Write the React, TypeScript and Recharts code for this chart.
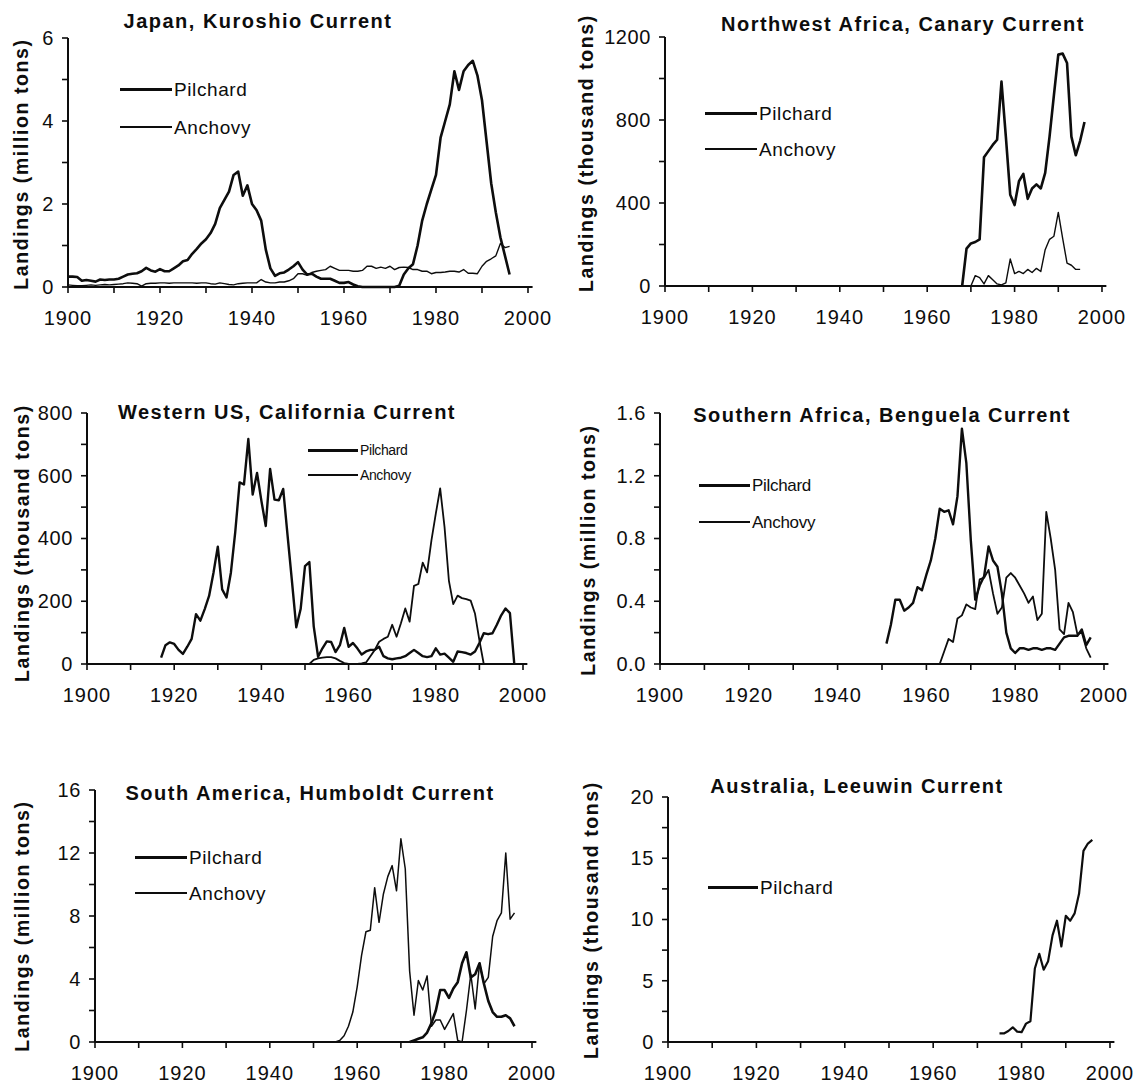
import React from "react";
import { LineChart, Line, XAxis, YAxis } from "recharts";

const FONT = '"Liberation Sans", Arial, Helvetica, sans-serif';
const INK = "#0d0d0d";
const X_MIN = 1900;
const X_MAX = 2001;

// x axis: tick every 10 years, label every 20
const YEAR_TICKS = [1900, 1910, 1920, 1930, 1940, 1950, 1960, 1970, 1980, 1990, 2000];
const YEAR_LABELS = [1900, 1920, 1940, 1960, 1980, 2000];

// ---- Japan, Kuroshio Current (million tons) ----
const japanPilchardStart = 1900;
const japanPilchard = [
  0.25, 0.25, 0.24, 0.15, 0.17, 0.15, 0.13, 0.18, 0.17, 0.18,
  0.18, 0.2, 0.25, 0.3, 0.32, 0.33, 0.38, 0.46, 0.4, 0.37,
  0.43, 0.38, 0.38, 0.45, 0.52, 0.62, 0.65, 0.8, 0.92, 1.05,
  1.15, 1.3, 1.52, 1.9, 2.1, 2.3, 2.7, 2.78, 2.2, 2.45,
  2.0, 1.85, 1.6, 0.9, 0.45, 0.27, 0.33, 0.35, 0.42, 0.5,
  0.6, 0.42, 0.3, 0.32, 0.25, 0.2, 0.2, 0.2, 0.15, 0.1,
  0.1, 0.12, 0.06, 0.02, 0, 0, 0, 0, 0, 0,
  0, 0, 0.03, 0.3, 0.45, 0.55, 1.0, 1.6, 2.0, 2.35,
  2.7, 3.6, 4.0, 4.4, 5.2, 4.75, 5.2, 5.35, 5.45, 5.1,
  4.5, 3.5, 2.5, 1.8, 1.2, 0.75, 0.3,
];
const japanAnchovyStart = 1900;
const japanAnchovy = [
  0.05, 0.04, 0.03, 0.03, 0.04, 0.05, 0.04, 0.05, 0.06, 0.05,
  0.06, 0.07, 0.08, 0.1, 0.09, 0.08, 0.02, 0.08, 0.09, 0.09,
  0.1, 0.1, 0.09, 0.1, 0.1, 0.1, 0.1, 0.1, 0.09, 0.1,
  0.1, 0.08, 0.07, 0.1, 0.08, 0.06, 0.05, 0.08, 0.09, 0.1,
  0.1, 0.1, 0.18, 0.12, 0.1, 0.1, 0.12, 0.12, 0.15, 0.2,
  0.32, 0.32, 0.28, 0.35, 0.38, 0.4, 0.42, 0.5, 0.45, 0.4,
  0.4, 0.4, 0.38, 0.38, 0.4, 0.5, 0.5, 0.45, 0.48, 0.45,
  0.5, 0.42, 0.47, 0.48, 0.47, 0.42, 0.42, 0.38, 0.38, 0.32,
  0.35, 0.35, 0.36, 0.38, 0.38, 0.36, 0.42, 0.33, 0.33, 0.32,
  0.5, 0.62, 0.68, 0.75, 1.05, 0.95, 0.98,
];
const japanTicks = [0, 1, 2, 3, 4, 5, 6];
const japanTickLabels = ["0", "", "2", "", "4", "", "6"];

// ---- Northwest Africa, Canary Current (thousand tons) ----
const canaryPilchardStart = 1968;
const canaryPilchard = [
  0, 180, 205, 212, 225, 620, 650, 680, 705, 985,
  720, 440, 390, 505, 540, 420, 470, 490, 470, 545,
  720, 920, 1115, 1120, 1075, 720, 630, 700, 790,
];
const canaryAnchovyStart = 1970;
const canaryAnchovy = [
  0, 50, 40, 10, 50, 30, 10, 5, 15, 130,
  60, 70, 60, 80, 65, 85, 70, 175, 225, 240,
  355, 230, 110, 100, 80, 80,
];
const canaryTicks = [0, 200, 400, 600, 800, 1000, 1200];
const canaryTickLabels = ["0", "", "400", "", "800", "", "1200"];

// ---- Western US, California Current (thousand tons) ----
const californiaPilchardStart = 1917;
const californiaPilchard = [
  20, 60, 69, 64, 45, 32, 55, 80, 159, 138,
  175, 217, 290, 374, 238, 212, 291, 420, 579, 572,
  717, 540, 609, 520, 440, 622, 524, 522, 558, 410,
  265, 117, 175, 312, 325, 120, 23, 50, 72, 70,
  38, 60, 115, 55, 67, 50, 30, 40, 45, 45,
  55, 25, 18, 15, 18, 20, 25, 35, 45, 35,
  25, 22, 25, 50, 30, 33, 20, 7, 40, 38,
  35, 30, 40, 67, 98, 95, 98, 125, 155, 177,
  162, 0,
];
const californiaAnchovyStart = 1951;
const californiaAnchovy = [
  0, 13, 18, 20, 22, 22, 18, 10, 3, 0,
  0, 0, 2, 5, 25, 45, 71, 80, 87, 125,
  87, 130, 177, 135, 249, 255, 323, 292, 394, 479,
  560, 437, 266, 191, 218, 210, 207, 202, 160, 75,
  0,
];
const californiaTicks = [0, 100, 200, 300, 400, 500, 600, 700, 800];
const californiaTickLabels = ["0", "", "200", "", "400", "", "600", "", "800"];

// ---- Southern Africa, Benguela Current (million tons) ----
const benguelaPilchardStart = 1951;
const benguelaPilchard = [
  0.13, 0.25, 0.41, 0.41, 0.34, 0.36, 0.39, 0.49, 0.47, 0.57,
  0.66, 0.8, 0.99, 0.97, 0.98, 0.89, 1.07, 1.5, 1.28, 0.79,
  0.41, 0.5, 0.56, 0.75, 0.66, 0.62, 0.45, 0.2, 0.1, 0.07,
  0.1, 0.1, 0.09, 0.1, 0.1, 0.09, 0.1, 0.1, 0.09, 0.13,
  0.17, 0.18, 0.18, 0.18, 0.22, 0.12, 0.17,
];
const benguelaAnchovyStart = 1963;
const benguelaAnchovy = [
  0, 0.08, 0.16, 0.14, 0.29, 0.31, 0.38, 0.36, 0.35, 0.54,
  0.55, 0.6, 0.45, 0.32, 0.36, 0.55, 0.58, 0.55, 0.5, 0.45,
  0.39, 0.43, 0.28, 0.32, 0.97, 0.8, 0.6, 0.22, 0.19, 0.39,
  0.33, 0.19, 0.2, 0.1, 0.04,
];
const benguelaTicks = [0, 0.2, 0.4, 0.6, 0.8, 1.0, 1.2, 1.4, 1.6];
const benguelaTickLabels = ["0.0", "", "0.4", "", "0.8", "", "1.2", "", "1.6"];

// ---- South America, Humboldt Current (million tons) ----
const humboldtPilchardStart = 1972;
const humboldtPilchard = [
  0, 0.1, 0.2, 0.3, 0.6, 1.2, 2.0, 3.3, 3.3, 2.8,
  3.4, 3.8, 5.0, 5.7, 4.1, 4.3, 5.0, 3.7, 2.6, 1.9,
  1.6, 1.6, 1.7, 1.5, 1.0,
];
const humboldtAnchovyStart = 1955;
const humboldtAnchovy = [
  0, 0.1, 0.4, 1.0, 1.9, 3.5, 5.5, 7.0, 7.1, 9.8,
  7.6, 9.4, 10.5, 11.2, 9.6, 12.9, 11.0, 4.5, 1.7, 3.9,
  3.3, 4.2, 1.0, 1.4, 1.4, 0.8, 1.3, 1.8, 0.1, 0.0,
  2.0, 4.3, 2.1, 5.0, 3.7, 4.1, 6.7, 7.7, 8.2, 12.0,
  7.8, 8.2,
];
const humboldtTicks = [0, 2, 4, 6, 8, 10, 12, 14, 16];
const humboldtTickLabels = ["0", "", "4", "", "8", "", "12", "", "16"];

// ---- Australia, Leeuwin Current (thousand tons) ----
const leeuwinPilchardStart = 1975;
const leeuwinPilchard = [
  0.7, 0.7, 0.9, 1.2, 0.85, 0.8, 1.5, 1.7, 6.0, 7.2,
  5.9, 6.6, 8.7, 9.9, 7.8, 10.3, 9.9, 10.5, 12.1, 15.6,
  16.2, 16.5,
];
const leeuwinTicks = [0, 2.5, 5, 7.5, 10, 12.5, 15, 17.5, 20];
const leeuwinTickLabels = ["0", "", "5", "", "10", "", "15", "", "20"];

type Series = { name: string; start: number; values: number[]; width: number };

type PanelDef = {
  title: string;
  titleAt: [number, number];
  yLabel: string;
  yLabelAt: [number, number];
  box: { left: number; right: number; top: number; bottom: number };
  ticks: number[];
  tickLabels: string[];
  series: Series[];
  legend: { x: number; y: number; gap: number; len: number; font: number; spacing: number };
};

const PANELS: PanelDef[] = [
  {
    title: "Japan, Kuroshio Current",
    titleAt: [258, 21],
    yLabel: "Landings (million tons)",
    yLabelAt: [21, 164],
    box: { left: 68, right: 528, top: 38, bottom: 287 },
    ticks: japanTicks,
    tickLabels: japanTickLabels,
    series: [
      { name: "Pilchard", start: japanPilchardStart, values: japanPilchard, width: 2.6 },
      { name: "Anchovy", start: japanAnchovyStart, values: japanAnchovy, width: 1.4 },
    ],
    legend: { x: 120, y: 89, gap: 38, len: 52, font: 19, spacing: 0.6 },
  },
  {
    title: "Northwest Africa, Canary Current",
    titleAt: [903, 24],
    yLabel: "Landings (thousand tons)",
    yLabelAt: [586, 153],
    box: { left: 665, right: 1102, top: 37, bottom: 286 },
    ticks: canaryTicks,
    tickLabels: canaryTickLabels,
    series: [
      { name: "Pilchard", start: canaryPilchardStart, values: canaryPilchard, width: 2.6 },
      { name: "Anchovy", start: canaryAnchovyStart, values: canaryAnchovy, width: 1.4 },
    ],
    legend: { x: 705, y: 113, gap: 36, len: 52, font: 19, spacing: 0.6 },
  },
  {
    title: "Western US, California Current",
    titleAt: [287, 412],
    yLabel: "Landings (thousand tons)",
    yLabelAt: [22, 543],
    box: { left: 87, right: 523, top: 413, bottom: 664 },
    ticks: californiaTicks,
    tickLabels: californiaTickLabels,
    series: [
      { name: "Pilchard", start: californiaPilchardStart, values: californiaPilchard, width: 2.4 },
      { name: "Anchovy", start: californiaAnchovyStart, values: californiaAnchovy, width: 1.8 },
    ],
    legend: { x: 308, y: 450, gap: 25, len: 50, font: 14, spacing: -0.4 },
  },
  {
    title: "Southern Africa, Benguela Current",
    titleAt: [882, 415],
    yLabel: "Landings (million tons)",
    yLabelAt: [588, 550],
    box: { left: 660, right: 1104, top: 413, bottom: 664 },
    ticks: benguelaTicks,
    tickLabels: benguelaTickLabels,
    series: [
      { name: "Pilchard", start: benguelaPilchardStart, values: benguelaPilchard, width: 2.4 },
      { name: "Anchovy", start: benguelaAnchovyStart, values: benguelaAnchovy, width: 1.8 },
    ],
    legend: { x: 699, y: 485, gap: 37, len: 51, font: 17, spacing: -0.3 },
  },
  {
    title: "South America, Humboldt Current",
    titleAt: [310, 793],
    yLabel: "Landings (million tons)",
    yLabelAt: [22, 926],
    box: { left: 95, right: 532, top: 790, bottom: 1042 },
    ticks: humboldtTicks,
    tickLabels: humboldtTickLabels,
    series: [
      { name: "Pilchard", start: humboldtPilchardStart, values: humboldtPilchard, width: 2.6 },
      { name: "Anchovy", start: humboldtAnchovyStart, values: humboldtAnchovy, width: 1.5 },
    ],
    legend: { x: 135, y: 857, gap: 36, len: 52, font: 19, spacing: 0.6 },
  },
  {
    title: "Australia, Leeuwin Current",
    titleAt: [857, 786],
    yLabel: "Landings (thousand tons)",
    yLabelAt: [591, 920],
    box: { left: 668, right: 1110, top: 797, bottom: 1042 },
    ticks: leeuwinTicks,
    tickLabels: leeuwinTickLabels,
    series: [
      { name: "Pilchard", start: leeuwinPilchardStart, values: leeuwinPilchard, width: 2.2 },
    ],
    legend: { x: 708, y: 887, gap: 36, len: 50, font: 19, spacing: 0.6 },
  },
];

function buildRows(series: Series[]) {
  const rows: Record<number, any> = {};
  series.forEach((s) => {
    s.values.forEach((v, i) => {
      const year = s.start + i;
      if (!rows[year]) rows[year] = { year };
      rows[year][s.name] = v;
    });
  });
  return Object.values(rows).sort((a: any, b: any) => a.year - b.year);
}

const XTick = (props: any) => {
  const { x, y, payload } = props;
  if (!YEAR_LABELS.includes(payload.value)) return <g />;
  return (
    <text x={x} y={y + 25} textAnchor="middle" dominantBaseline="central"
      fontFamily={FONT} fontSize={20} letterSpacing={1} fill={INK}>
      {payload.value}
    </text>
  );
};

const makeYTick = (ticks: number[], labels: string[]) => (props: any) => {
  const { x, y, payload } = props;
  const label = labels[ticks.indexOf(payload.value)];
  if (!label) return <g />;
  return (
    <text x={x - 8} y={y} textAnchor="end" dominantBaseline="central"
      fontFamily={FONT} fontSize={20} letterSpacing={0.6} fill={INK}>
      {label}
    </text>
  );
};

const Y_AXIS_W = 70;
const X_AXIS_H = 45;
const M_TOP = 10;
const M_RIGHT = 32;

function Panel({ p }: { p: PanelDef }) {
  const rows = buildRows(p.series);
  const pxPerYear = (p.box.right - p.box.left) / 100;
  const plotW = (X_MAX - X_MIN) * pxPerYear;
  const plotH = p.box.bottom - p.box.top;
  const yMax = p.ticks[p.ticks.length - 1];

  return (
    <>
      <div style={{ position: "absolute", left: p.box.left - Y_AXIS_W, top: p.box.top - M_TOP }}>
        <LineChart
          width={Y_AXIS_W + plotW + M_RIGHT}
          height={M_TOP + plotH + X_AXIS_H}
          data={rows}
          margin={{ top: M_TOP, right: M_RIGHT, bottom: 0, left: 0 }}
        >
          <XAxis
            type="number"
            dataKey="year"
            domain={[X_MIN, X_MAX]}
            ticks={YEAR_TICKS}
            interval={0}
            height={X_AXIS_H}
            tickSize={6}
            tickMargin={0}
            axisLine={{ stroke: INK, strokeWidth: 2.2 }}
            tickLine={{ stroke: INK, strokeWidth: 1.6 }}
            tick={XTick}
          />
          <YAxis
            type="number"
            domain={[0, yMax]}
            ticks={p.ticks}
            interval={0}
            width={Y_AXIS_W}
            tickSize={6}
            tickMargin={0}
            axisLine={{ stroke: INK, strokeWidth: 2 }}
            tickLine={{ stroke: INK, strokeWidth: 1.6 }}
            tick={makeYTick(p.ticks, p.tickLabels)}
          />
          {p.series.map((s) => (
            <Line
              key={s.name}
              type="linear"
              dataKey={s.name}
              stroke={INK}
              strokeWidth={s.width}
              strokeLinejoin="round"
              dot={false}
              activeDot={false}
              connectNulls={false}
              isAnimationActive={false}
            />
          ))}
        </LineChart>
      </div>

      <div
        style={{
          position: "absolute",
          left: p.titleAt[0],
          top: p.titleAt[1],
          transform: "translate(-50%, -50%)",
          whiteSpace: "nowrap",
          fontWeight: 700,
          fontSize: 20,
          letterSpacing: 1.5,
          color: INK,
        }}
      >
        {p.title}
      </div>

      <div
        style={{
          position: "absolute",
          left: p.yLabelAt[0],
          top: p.yLabelAt[1],
          transform: "translate(-50%, -50%) rotate(-90deg)",
          whiteSpace: "nowrap",
          fontWeight: 700,
          fontSize: 19.5,
          letterSpacing: 1.6,
          color: INK,
        }}
      >
        {p.yLabel}
      </div>

      {p.series.map((s, i) => {
        const cy = p.legend.y + i * p.legend.gap;
        const lw = i === 0 ? 3 : 1.6;
        return (
          <React.Fragment key={s.name}>
            <div
              style={{
                position: "absolute",
                left: p.legend.x,
                top: cy - lw / 2,
                width: p.legend.len,
                height: lw,
                background: INK,
              }}
            />
            <div
              style={{
                position: "absolute",
                left: p.legend.x + p.legend.len + 2,
                top: cy,
                transform: "translateY(-50%)",
                whiteSpace: "nowrap",
                fontSize: p.legend.font,
                letterSpacing: p.legend.spacing,
                color: INK,
                lineHeight: 1,
              }}
            >
              {s.name}
            </div>
          </React.Fragment>
        );
      })}
    </>
  );
}

export default function App() {
  return (
    <div
      style={{
        position: "absolute",
        left: 0,
        top: 0,
        width: 1139,
        height: 1086,
        background: "#fff",
        fontFamily: FONT,
        overflow: "hidden",
      }}
    >
      {PANELS.map((p) => (
        <Panel key={p.title} p={p} />
      ))}
    </div>
  );
}
